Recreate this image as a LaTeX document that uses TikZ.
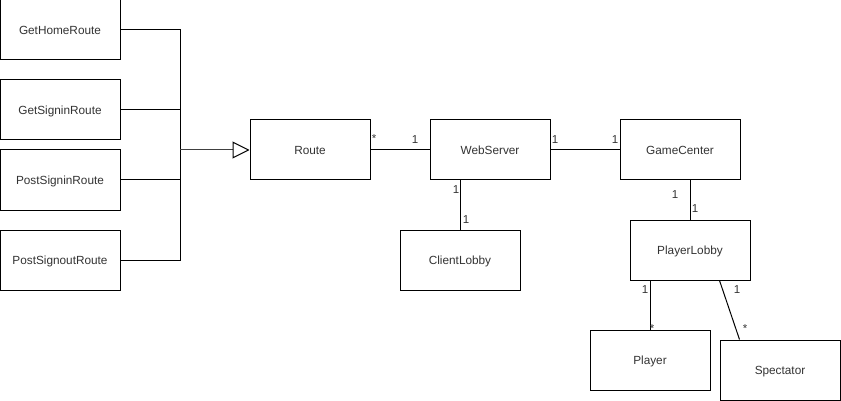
\documentclass[tikz,border=0pt]{standalone}
\usepackage{fontspec}
\setmainfont{Liberation Sans}
\usetikzlibrary{arrows.meta,calc}
\definecolor{txt}{HTML}{333333}
\begin{document}
\begin{tikzpicture}[x=1pt,y=-1pt,line width=1pt,
  font=\fontsize{11.8}{14}\selectfont,
  umlbox/.style={draw=black,fill=white,minimum width=120pt,minimum height=60pt,inner sep=0pt,text=txt,text height=10pt,text depth=0.5pt},
  mult/.style={inner sep=0pt,text=txt,font=\fontsize{11.5}{13}\selectfont},
  assoc/.style={draw=black,line width=1pt},
  inherit/.style={draw=black!75,line width=1pt,-{Triangle[open,length=17pt,width=17pt,line width=1pt,color=black]}}]
  \useasboundingbox (0,0) rectangle (841,401);

  % classes
  \node[umlbox] (ghr) at (60,30)  {GetHomeRoute};
  \node[umlbox] (gsr) at (60,110) {GetSigninRoute};
  \node[umlbox] (psr) at (60,180) {PostSigninRoute};
  \node[umlbox] (pso) at (60,260) {PostSignoutRoute};
  \node[umlbox] (route) at (310,150) {Route};
  \node[umlbox] (web) at (490,150) {WebServer};
  \node[umlbox] (client) at (460,260) {ClientLobby};
  \node[umlbox] (game) at (680,150) {GameCenter};
  \node[umlbox] (lobby) at (690,250) {PlayerLobby};
  \node[umlbox] (player) at (650,360) {Player};
  \node[umlbox] (spect) at (780,370) {Spectator};

  % generalisation bus
  \coordinate (bus) at (180,150);
  \draw[assoc] (ghr.east) -| (bus);
  \draw[assoc] (gsr.east) -| (bus);
  \draw[assoc] (psr.east) -| (bus);
  \draw[assoc] (pso.east) -| (bus);
  \draw[inherit] (bus) -- (route.west);

  % associations
  \draw[assoc] (route.east) -- (web.west);
  \node[mult] (m1) at (374,139) {*};
  \node[mult] (m2) at (415,140) {1};

  \draw[assoc] (web.east) -- (game.west);
  \node[mult] (m3) at (555,140) {1};
  \node[mult] (m4) at (615,140) {1};

  \draw[assoc] (web.south -| client.north) -- (client.north);
  \node[mult] (m5) at (456,190) {1};
  \node[mult] (m6) at (466,220) {1};

  \draw[assoc] (game.south -| lobby.north) -- (lobby.north);
  \node[mult] (m7) at (675,195) {1};
  \node[mult] (m8) at (695,209) {1};

  \draw[assoc] (lobby.south -| player.north) -- (player.north);
  \node[mult] (m9) at (645,290) {1};
  \node[mult] (m10) at (652,329) {*};

  \draw[assoc] ($(lobby.south west)+(90,0)$) -- ($(spect.north west)+(20,0)$);
  \node[mult] (m11) at (737,290) {1};
  \node[mult] (m12) at (745,329) {*};
\end{tikzpicture}
\end{document}
